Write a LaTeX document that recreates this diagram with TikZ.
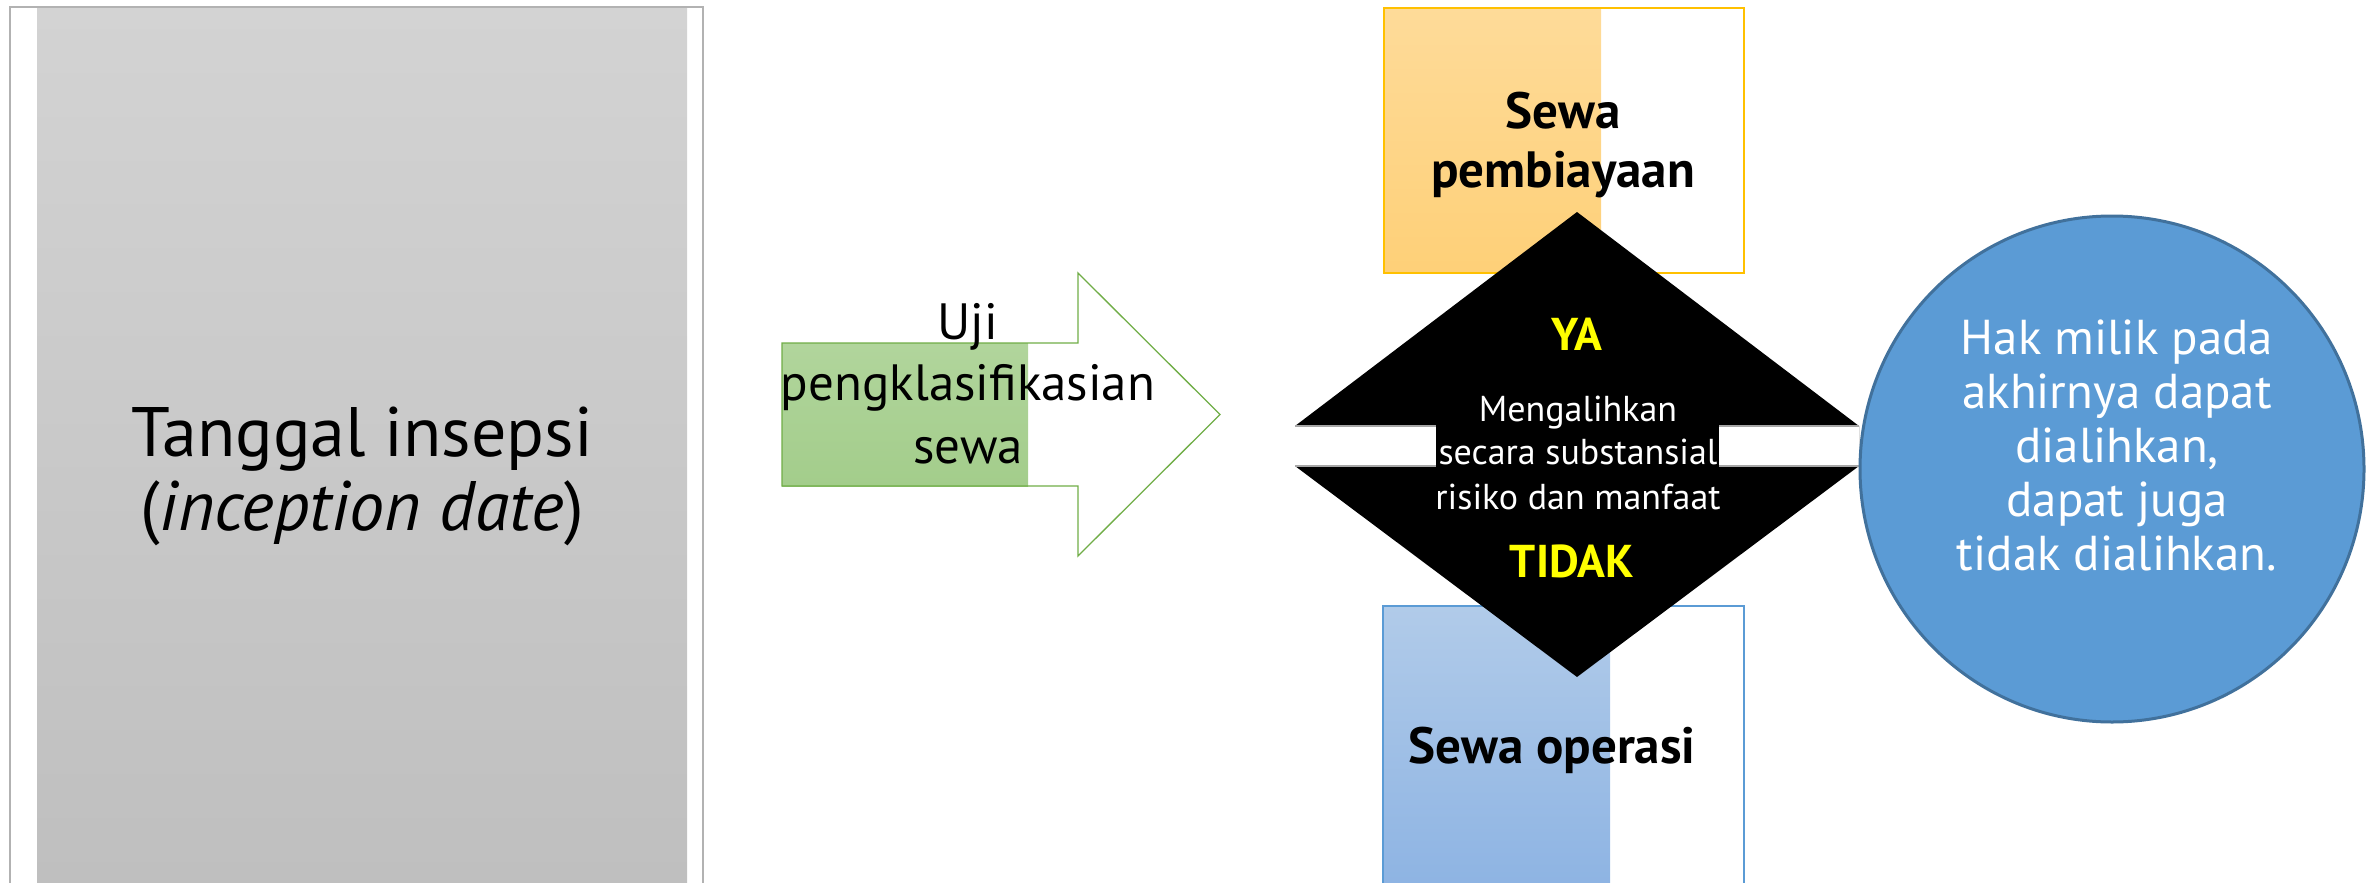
\documentclass[tikz,border=0pt]{standalone}
\usepackage{fontspec}
\setmainfont{PT Sans}
\definecolor{lbtop}{RGB}{211,211,211}
\definecolor{lbbot}{RGB}{191,191,191}
\definecolor{lbline}{RGB}{178,178,178}
\definecolor{grnline}{RGB}{112,173,71}
\definecolor{grntop}{RGB}{177,213,156}
\definecolor{grnbot}{RGB}{163,205,139}
\definecolor{orline}{RGB}{255,192,0}
\definecolor{ortop}{RGB}{254,219,153}
\definecolor{orbot}{RGB}{254,208,120}
\definecolor{blline}{RGB}{91,155,213}
\definecolor{bltop}{RGB}{177,203,233}
\definecolor{blbot}{RGB}{142,180,227}
\definecolor{circfill}{RGB}{91,155,213}
\definecolor{circline}{RGB}{65,113,156}
\definecolor{bandline}{RGB}{166,166,166}
\definecolor{yel}{RGB}{255,255,0}
\tikzset{
  txt/.style={inner sep=0pt, anchor=base},
  bigtxt/.style={txt, font=\fontsize{70}{80}\selectfont},
  arrtxt/.style={txt, font=\fontsize{51}{61}\selectfont},
  boxtxt/.style={txt, font=\bfseries\fontsize{51}{58}\selectfont},
  dtxt/.style={txt, text=white, font=\fontsize{36}{43}\selectfont},
  yntxt/.style={txt, text=yel, font=\bfseries\fontsize{46}{55}\selectfont},
  ctxt/.style={txt, text=white, font=\fontsize{49}{54}\selectfont},
}
\begin{document}
\begin{tikzpicture}[x=1pt,y=-1pt]
\useasboundingbox (0,0) rectangle (2372,883);
\clip (0,0) rectangle (2372,883);
% left panel
\shade[top color=lbtop,bottom color=lbbot] (37,7) rectangle (687,883);
\draw[lbline, line width=2] (10,890) -- (10,7) -- (703,7) -- (703,890);
\node[bigtxt] (tgl) at (362,456) {Tanggal insepsi};
\node[bigtxt] (inc) at (362,530) {(\textit{inception date})};
% arrow
\shade[top color=grntop,bottom color=grnbot] (782,343) rectangle (1028,486);
\draw[grnline, line width=1.3] (782,343) -- (1078,343) -- (1078,273) -- (1220,414.5)
  -- (1078,556) -- (1078,486) -- (782,486) -- cycle;
\node[arrtxt] (uji1) at (968,339) {Uji};
\node[arrtxt] (uji2) at (968,400) {pengklasifikasian};
\node[arrtxt] (uji3) at (968,463) {sewa};
% orange box
\shade[top color=ortop,bottom color=orbot] (1384,8) rectangle (1601,273);
\draw[orline, line width=2] (1384,8) rectangle (1744,273);
\node[boxtxt] (sp1) at (1563,128) {Sewa};
\node[boxtxt] (sp2) at (1563,187) {pembiayaan};
% blue box
\shade[top color=bltop,bottom color=blbot] (1383,606) rectangle (1610,883);
\draw[blline, line width=2] (1383,890) -- (1383,606) -- (1744,606) -- (1744,890);
\node[boxtxt] (so) at (1552,763) {Sewa operasi};
% decision shape
\fill[black] (1577,212) -- (1859,426) -- (1859,466) -- (1577,677) -- (1295,466) -- (1295,426) -- cycle;
\fill[white] (1295,426) rectangle (1859,466);
\draw[bandline, line width=1.5] (1295,426) -- (1436,426) (1295,466) -- (1436,466)
  (1719,426) -- (1859,426) (1719,466) -- (1859,466);
\fill[black] (1436,425) rectangle (1719,467);
\node[yntxt] (ya) at (1577,350) {YA};
\node[dtxt] (m1) at (1578,421) {Mengalihkan};
\node[dtxt] (m2) at (1578,464) {secara substansial};
\node[dtxt] (m3) at (1578,509) {risiko dan manfaat};
\node[yntxt] (tdk) at (1572,577) {TIDAK};
% circle
\draw[circline, line width=3, fill=circfill] (2112,469) ellipse [x radius=252pt, y radius=253pt];
\node[ctxt] (c1) at (2117,354) {Hak milik pada};
\node[ctxt] (c2) at (2117,408) {akhirnya dapat};
\node[ctxt] (c3) at (2117,462) {dialihkan,};
\node[ctxt] (c4) at (2117,516) {dapat juga};
\node[ctxt] (c5) at (2117,570) {tidak dialihkan.};
\end{tikzpicture}
\end{document}
